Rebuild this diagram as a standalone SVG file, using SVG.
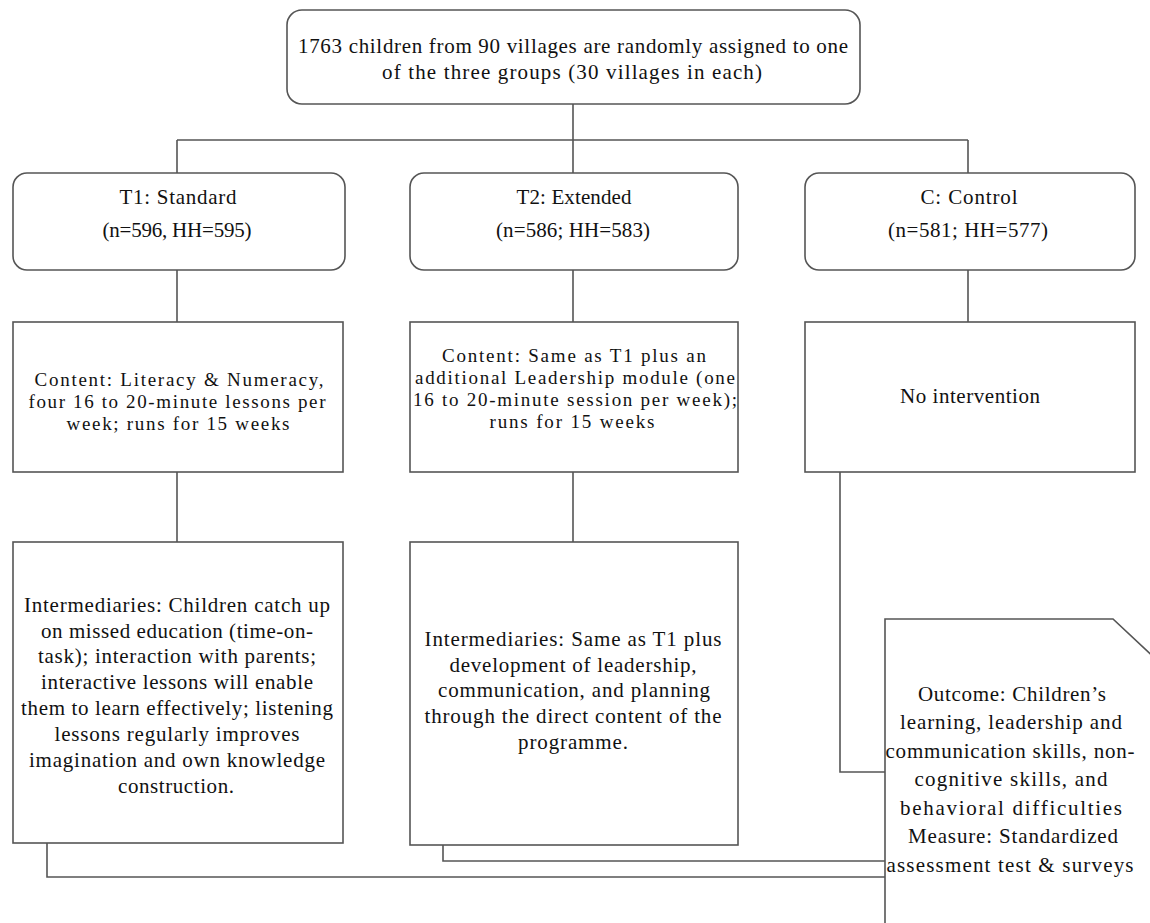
<svg xmlns="http://www.w3.org/2000/svg" width="1150" height="923" viewBox="0 0 1150 923">
<style>
.box{fill:#fff;stroke:#555;stroke-width:1.6}
.ln{fill:none;stroke:#555;stroke-width:1.6}
.t{font-family:'Liberation Serif','Times New Roman','DejaVu Serif',serif;font-size:21px;fill:#111;text-anchor:middle}
.s{font-size:19px}
</style>
<rect width="1150" height="923" fill="#fff"/>
<g id="connectors">
<path class="ln" d="M573,104 V140 M177,140 H968 M177,140 V173 M573,140 V173 M968,140 V173"/>
<path class="ln" d="M177,270 V322 M573,270 V322 M968,270 V322"/>
<path class="ln" d="M177,472 V542 M573,472 V542"/>
<path class="ln" d="M840,472 V772 H885"/>
<path class="ln" d="M443,845 V861 H885"/>
<path class="ln" d="M47,843 V877 H885"/>
</g>
<g class="t">
<g id="root">
<rect class="box" x="287" y="10" width="573" height="94" rx="15"/>
<text x="573" y="53" textLength="550" lengthAdjust="spacing">1763 children from 90 villages are randomly assigned to one</text>
<text x="572" y="79" textLength="380" lengthAdjust="spacing">of the three groups (30 villages in each)</text>
</g>
<g id="t1">
<rect class="box" x="13" y="173" width="332" height="97" rx="14"/>
<text x="178" y="204" textLength="117" lengthAdjust="spacing">T1: Standard</text>
<text x="177" y="237" textLength="149" lengthAdjust="spacing">(n=596, HH=595)</text>
</g>
<g id="t2">
<rect class="box" x="410" y="173" width="328" height="97" rx="14"/>
<text x="574" y="204" textLength="115" lengthAdjust="spacing">T2: Extended</text>
<text x="573" y="237" textLength="154" lengthAdjust="spacing">(n=586; HH=583)</text>
</g>
<g id="c">
<rect class="box" x="805" y="173" width="330" height="97" rx="14"/>
<text x="969" y="204" textLength="97" lengthAdjust="spacing">C: Control</text>
<text x="968" y="237" textLength="160" lengthAdjust="spacing">(n=581; HH=577)</text>
</g>
<g id="t1-content" class="s">
<rect class="box" x="13" y="322" width="330" height="150"/>
<text x="179" y="386" textLength="289" lengthAdjust="spacing">Content: Literacy &amp; Numeracy,</text>
<text x="177" y="408" textLength="297" lengthAdjust="spacing">four 16 to 20-minute lessons per</text>
<text x="178" y="430" textLength="223" lengthAdjust="spacing">week; runs for 15 weeks</text>
</g>
<g id="t2-content" class="s">
<rect class="box" x="410" y="322" width="328" height="150"/>
<text x="574" y="362" textLength="264" lengthAdjust="spacing">Content: Same as T1 plus an</text>
<text x="575" y="384" textLength="320" lengthAdjust="spacing">additional Leadership module (one</text>
<text x="575" y="406" textLength="324" lengthAdjust="spacing">16 to 20-minute session per week);</text>
<text x="572" y="428" textLength="165" lengthAdjust="spacing">runs for 15 weeks</text>
</g>
<g id="c-content">
<rect class="box" x="805" y="322" width="330" height="150"/>
<text x="970" y="403" textLength="140" lengthAdjust="spacing">No intervention</text>
</g>
<g id="t1-inter">
<rect class="box" x="13" y="542" width="330" height="301"/>
<text x="177" y="612" textLength="306" lengthAdjust="spacing">Intermediaries: Children catch up</text>
<text x="177" y="638" textLength="272" lengthAdjust="spacing">on missed education (time-on-</text>
<text x="177" y="663" textLength="278" lengthAdjust="spacing">task); interaction with parents;</text>
<text x="177" y="689" textLength="272" lengthAdjust="spacing">interactive lessons will enable</text>
<text x="177" y="715" textLength="312" lengthAdjust="spacing">them to learn effectively; listening</text>
<text x="177" y="741" textLength="245" lengthAdjust="spacing">lessons regularly improves</text>
<text x="177" y="767" textLength="296" lengthAdjust="spacing">imagination and own knowledge</text>
<text x="176" y="793" textLength="116" lengthAdjust="spacing">construction.</text>
</g>
<g id="t2-inter">
<rect class="box" x="410" y="542" width="328" height="303"/>
<text x="573" y="646" textLength="297" lengthAdjust="spacing">Intermediaries: Same as T1 plus</text>
<text x="573" y="672" textLength="247" lengthAdjust="spacing">development of leadership,</text>
<text x="574" y="697" textLength="272" lengthAdjust="spacing">communication, and planning</text>
<text x="573" y="723" textLength="297" lengthAdjust="spacing">through the direct content of the</text>
<text x="573" y="749" textLength="110" lengthAdjust="spacing">programme.</text>
</g>
<g id="outcome">
<path class="box" d="M885,930 V619 H1113 L1160,663 V930"/>
<text x="1012" y="701" textLength="188" lengthAdjust="spacing">Outcome: Children’s</text>
<text x="1011" y="729" textLength="222" lengthAdjust="spacing">learning, leadership and</text>
<text x="1010" y="758" textLength="249" lengthAdjust="spacing">communication skills, non-</text>
<text x="1011" y="786" textLength="193" lengthAdjust="spacing">cognitive skills, and</text>
<text x="1011" y="815" textLength="222" lengthAdjust="spacing">behavioral difficulties</text>
<text x="1013" y="843" textLength="210" lengthAdjust="spacing">Measure: Standardized</text>
<text x="1010" y="872" textLength="247" lengthAdjust="spacing">assessment test &amp; surveys</text>
</g>
</g>
</svg>
